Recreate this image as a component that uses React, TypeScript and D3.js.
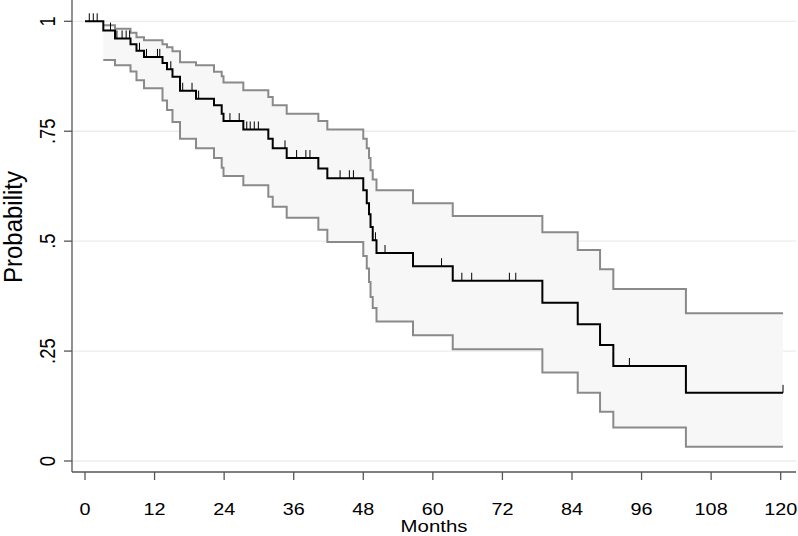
import React from "react";
import * as d3 from "d3";

// ---- data ----
const eventMonths = [3.16, 5.18, 7.85, 8.88, 10.18, 13.37, 14.15, 15.09, 16.39, 19.15, 22.25, 23.58, 23.89, 27.31, 31.62, 32.38, 34.79, 40.25, 41.8, 48.0, 48.6, 48.99, 49.25, 49.63, 50.28, 56.58, 63.43, 78.89, 84.99, 88.84, 91.13, 103.65];
const survival = [0.979, 0.961, 0.948, 0.933, 0.919, 0.905, 0.891, 0.874, 0.842, 0.824, 0.809, 0.79, 0.773, 0.754, 0.733, 0.711, 0.689, 0.665, 0.643, 0.616, 0.586, 0.561, 0.532, 0.502, 0.473, 0.443, 0.41, 0.36, 0.311, 0.264, 0.216, 0.155];
const upperCI = [0.991, 0.983, 0.974, 0.964, 0.957, 0.948, 0.941, 0.932, 0.907, 0.9, 0.885, 0.875, 0.861, 0.843, 0.828, 0.809, 0.79, 0.773, 0.754, 0.733, 0.711, 0.689, 0.661, 0.64, 0.616, 0.586, 0.557, 0.52, 0.48, 0.436, 0.391, 0.336];
const lowerCI = [0.912, 0.9, 0.886, 0.866, 0.848, 0.82, 0.798, 0.771, 0.733, 0.711, 0.689, 0.667, 0.648, 0.627, 0.601, 0.578, 0.553, 0.526, 0.498, 0.466, 0.438, 0.407, 0.373, 0.348, 0.317, 0.286, 0.254, 0.201, 0.155, 0.112, 0.076, 0.0325];
const censorMonths = [0.74, 1.43, 2.1, 4.4, 5.5, 6.4, 7.1, 7.7, 9.4, 10.6, 12.5, 12.9, 14.8, 16.85, 18.46, 19.6, 25.0, 26.6, 27.9, 28.5, 29.2, 29.9, 34.5, 36.5, 38.1, 38.8, 44.0, 45.6, 46.3, 50.1, 51.75, 61.5, 65.0, 66.7, 73.2, 74.3, 93.9, 120.4];
const xTicks = [0, 12, 24, 36, 48, 60, 72, 84, 96, 108, 120];
const yTicks = [0, 0.25, 0.5, 0.75, 1];
const yTickLabels = ["0", ".25", ".5", ".75", "1"];
const xTitle = "Months";
const yTitle = "Probability";

const FONT = "'Liberation Sans', Arial, Helvetica, sans-serif";

export default function App() {
  const W = 798, H = 536;
  const axisX = 72, axisY = 472, plotRight = 796;
  const x = d3.scaleLinear().domain([0, 120]).range([85, 780.7]);
  const y = d3.scaleLinear().domain([0, 1]).range([461, 21.3]);

  const endT = d3.max(censorMonths) as number;

  const kmPts: [number, number][] = [[0, 1], ...eventMonths.map((t, i) => [t, survival[i]] as [number, number]), [endT, survival[survival.length - 1]]];
  const upPts: [number, number][] = [...eventMonths.map((t, i) => [t, upperCI[i]] as [number, number]), [endT, upperCI[upperCI.length - 1]]];
  const loPts: [number, number][] = [...eventMonths.map((t, i) => [t, lowerCI[i]] as [number, number]), [endT, lowerCI[lowerCI.length - 1]]];
  const bandPts = eventMonths.map((t, i) => ({ t, lo: lowerCI[i], hi: upperCI[i] }));
  bandPts.push({ t: endT, lo: lowerCI[lowerCI.length - 1], hi: upperCI[upperCI.length - 1] });

  const line = d3.line<[number, number]>().x(d => x(d[0])).y(d => y(d[1])).curve(d3.curveStepAfter);
  const area = d3.area<{ t: number; lo: number; hi: number }>()
    .x(d => x(d.t)).y0(d => y(d.lo)).y1(d => y(d.hi)).curve(d3.curveStepAfter);

  const survAt = (t: number) => {
    let s = 1;
    eventMonths.forEach((e, i) => { if (e <= t) s = survival[i]; });
    return s;
  };

  return (
    <svg width={W} height={H} style={{ display: "block", position: "absolute", left: 0, top: 0, background: "#fff" }}>
      <rect x={0} y={0} width={W} height={H} fill="#fff" />
      {/* gridlines */}
      {yTicks.map(v => (
        <line key={"g" + v} x1={axisX} x2={plotRight} y1={y(v)} y2={y(v)} stroke="#ececec" strokeWidth={1.3} />
      ))}
      {/* CI band */}
      <path d={area(bandPts) || ""} fill="#f7f7f7" stroke="none" />
      <path d={line(upPts) || ""} fill="none" stroke="#8a8a8a" strokeWidth={2} />
      <path d={line(loPts) || ""} fill="none" stroke="#8a8a8a" strokeWidth={2} />
      {/* KM curve */}
      <path d={line(kmPts) || ""} fill="none" stroke="#000" strokeWidth={2} />
      {censorMonths.map((t, i) => (
        <line key={"c" + i} x1={x(t)} x2={x(t)} y1={y(survAt(t))} y2={y(survAt(t)) - 8} stroke="#000" strokeWidth={1} />
      ))}
      {/* axes */}
      <line x1={axisX} x2={axisX} y1={0} y2={axisY} stroke="#555" strokeWidth={1.3} />
      <line x1={axisX} x2={plotRight} y1={axisY} y2={axisY} stroke="#555" strokeWidth={1.3} />
      {yTicks.map((v, i) => (
        <g key={"yt" + v}>
          <line x1={axisX - 8} x2={axisX} y1={y(v)} y2={y(v)} stroke="#555" strokeWidth={1.3} />
          <text transform={`translate(55,${y(v)}) scale(1.15,1) rotate(-90)`} textAnchor="middle" fontFamily={FONT} fontSize={18.5} fill="#000">{yTickLabels[i]}</text>
        </g>
      ))}
      {xTicks.map(v => (
        <g key={"xt" + v}>
          <line x1={x(v)} x2={x(v)} y1={axisY} y2={axisY + 8} stroke="#555" strokeWidth={1.3} />
          <text transform={`translate(${x(v)},515) scale(1.2,1)`} textAnchor="middle" fontFamily={FONT} fontSize={16.5} fill="#000">{v}</text>
        </g>
      ))}
      <text transform={`translate(${(axisX + plotRight) / 2},532) scale(1.2,1)`} textAnchor="middle" fontFamily={FONT} fontSize={17} fill="#000">{xTitle}</text>
      <text transform={`translate(22,227) scale(1.1,1) rotate(-90)`} textAnchor="middle" fontFamily={FONT} fontSize={24} fill="#000">{yTitle}</text>
    </svg>
  );
}
